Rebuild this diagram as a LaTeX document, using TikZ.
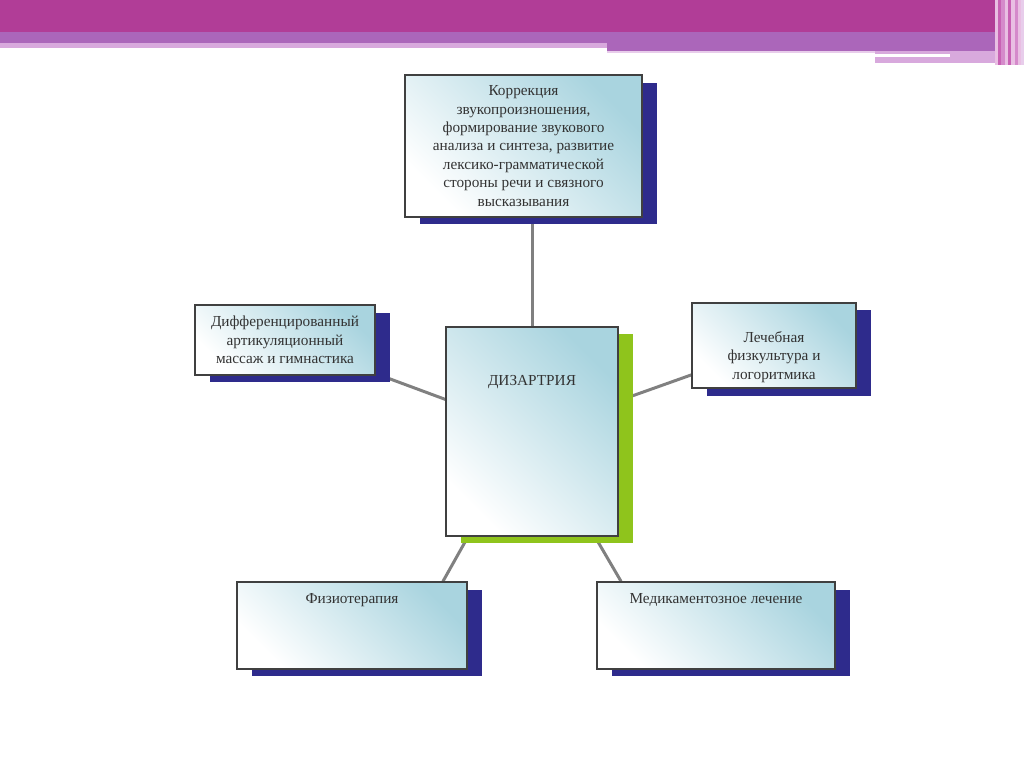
\documentclass[tikz,border=0pt]{standalone}
\usepackage{fontspec}
\setmainfont{Liberation Serif}
\usetikzlibrary{shadows}
\usetikzlibrary{backgrounds}

\definecolor{bandmag}{HTML}{B13D97}
\definecolor{bandpur}{HTML}{AB66BA}
\definecolor{bandpink}{HTML}{D8A9DD}
\definecolor{bandpale}{HTML}{E8CDEB}
\definecolor{stripeA}{HTML}{C862B4}
\definecolor{stripeB}{HTML}{E9BFE3}
\definecolor{stripeC}{HTML}{D58ACB}
\definecolor{boxblue}{HTML}{A9D4DF}
\definecolor{boxline}{HTML}{404040}
\definecolor{boxtext}{HTML}{333333}
\definecolor{shadownavy}{HTML}{2E2B8C}
\definecolor{shadowgreen}{HTML}{8FC41C}
\definecolor{linkgray}{HTML}{808080}

\begin{document}
\begin{tikzpicture}[x=0.02cm,y=-0.02cm,
  box/.style={rectangle,draw=boxline,line width=0.8pt,align=center,text=boxtext,
    font=\fontsize{8.7}{10.5}\selectfont,
    top color=boxblue,middle color=boxblue!14,bottom color=white,shading angle=-45},
  navyshadow/.style={general shadow={fill=shadownavy,shadow xshift=0.3cm,shadow yshift=-0.15cm}},
  greenshadow/.style={general shadow={fill=shadowgreen,shadow xshift=0.3cm,shadow yshift=-0.14cm}},
  link/.style={draw=linkgray,line width=1.7pt}]
\useasboundingbox (0,0) rectangle (1024,767);

% header bands
\fill[bandmag] (0,0) rectangle (1000,32);
\fill[bandpur] (0,32) rectangle (1000,43);
\fill[bandpink] (0,43) rectangle (607,48);
\fill[bandpur] (607,43) rectangle (1000,51);
\fill[bandpale] (607,51) rectangle (875,53);
\fill[bandpink] (875,51) rectangle (1005,63);
\fill[white] (875,54) rectangle (950,57);
\foreach \xa/\xb/\c in {995/998/stripeB,998/1001/stripeA,1001/1005/stripeC,1005/1008/stripeB,
  1008/1011/stripeA,1011/1015/stripeB,1015/1018/stripeC,1018/1021/stripeB,1021/1024/bandpale}
  \fill[\c] (\xa,0) rectangle (\xb,65);

% boxes
\node[box,navyshadow,minimum width=4.74cm,minimum height=2.84cm] (korr) at (523.5,146)
  {Коррекция\\звукопроизношения,\\формирование звукового\\анализа и синтеза, развитие\\лексико-грамматической\\стороны речи и связного\\высказывания};
\node[box,navyshadow,minimum width=3.6cm,minimum height=1.4cm] (mass) at (285,340)
  {Дифференцированный\\артикуляционный\\массаж и гимнастика};
\node[box,greenshadow,minimum width=3.44cm,minimum height=4.18cm,text depth=2.05cm] (dz) at (532,431.5)
  {ДИЗАРТРИЯ};
\node[box,navyshadow,minimum width=3.28cm,minimum height=1.66cm] (lfk) at (774,345.5)
  {\rule{0pt}{19pt}Лечебная\\физкультура и\\логоритмика};
\node[box,navyshadow,minimum width=4.6cm,minimum height=1.74cm,text depth=1.1cm] (fiz) at (352,625.5)
  {Физиотерапия};
\node[box,navyshadow,minimum width=4.76cm,minimum height=1.74cm,text depth=1.1cm] (med) at (716,625.5)
  {Медикаментозное лечение};

% links
\begin{scope}[on background layer]
\fill[white] (0,0) rectangle (1024,767);
\draw[link] (dz.north) -- (dz.north |- korr.south);
\draw[link] (mass) -- (dz);
\draw[link] (lfk) -- (dz);
\draw[link] ([xshift=-1.28cm]dz.south) -- ([xshift=1.82cm]fiz.north);
\draw[link] ([xshift=1.26cm]dz.south) -- ([xshift=-1.9cm]med.north);
\end{scope}
\end{tikzpicture}
\end{document}
